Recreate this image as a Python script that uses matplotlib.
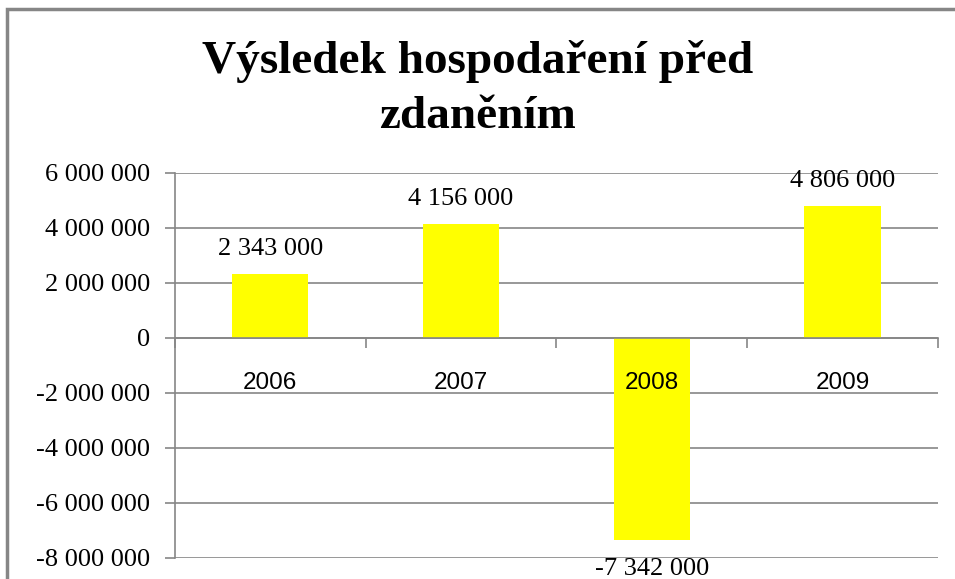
import matplotlib
matplotlib.use('Agg')
import matplotlib.pyplot as plt
from matplotlib.patches import Rectangle
from matplotlib.ticker import FuncFormatter, FixedLocator

years = ['2006', '2007', '2008', '2009']
values = [2343000, 4156000, -7342000, 4806000]
y_ticks = [6000000, 4000000, 2000000, 0, -2000000, -4000000, -6000000, -8000000]
title_lines = ['Výsledek hospodaření před', 'zdaněním']

grey = '#868686'
serif = ['Liberation Serif', 'DejaVu Serif']
sans = ['Liberation Sans', 'DejaVu Sans']


def fmt(v, pos=None):
    # mezera jako oddelovac tisicu
    return f"{v:,.0f}".replace(',', ' ')


fig = plt.figure(figsize=(9.55, 5.79), dpi=100)
ax = fig.add_axes([0.1832, 0.0363, 0.799, 0.665])

x = list(range(len(years)))
ax.bar(x, values, width=0.4, color='#FFFF00', zorder=2)

ax.set_xlim(-0.5, len(years) - 0.5)
ax.set_ylim(min(y_ticks), max(y_ticks))
ax.set_axisbelow(True)

ax.yaxis.set_major_locator(FixedLocator(y_ticks))
ax.yaxis.set_major_formatter(FuncFormatter(fmt))
ax.grid(axis='y', color=grey, linewidth=1.2)
ax.tick_params(axis='y', direction='out', length=7, width=1.2, color=grey, pad=11,
               labelsize=19)
for lab in ax.get_yticklabels():
    lab.set_fontfamily(serif)

# kategorie: carky na hranicich, popisky rucne (aby byly nad sloupci)
ax.set_xticks([i - 0.5 for i in range(len(years) + 1)])
ax.set_xticklabels([])
ax.tick_params(axis='x', direction='out', length=7, width=1.2, color=grey)
ax.spines['bottom'].set_position(('data', 0))
ax.spines['bottom'].set_color(grey)
ax.spines['bottom'].set_linewidth(1.2)
ax.spines['left'].set_color(grey)
ax.spines['left'].set_linewidth(1.2)
ax.spines['top'].set_visible(False)
ax.spines['right'].set_visible(False)

for i, yr in enumerate(years):
    ax.annotate(yr, (i, 0), xytext=(0, -32.5), textcoords='offset points',
                ha='center', va='center', fontsize=17.5, family=sans, zorder=5)

for i, v in enumerate(values):
    off = 18 if v >= 0 else -21
    ax.annotate(fmt(v), (i, v), xytext=(0, off), textcoords='offset points',
                ha='center', va='center', fontsize=19, family=serif, zorder=5,
                annotation_clip=False)

fig.text(0.5, 1 - 73 / 579, title_lines[0], ha='center', va='baseline',
         fontsize=34, fontweight='bold', family=serif)
fig.text(0.5, 1 - 128 / 579, title_lines[1], ha='center', va='baseline',
         fontsize=34, fontweight='bold', family=serif)

# ramecek grafu (orizly vpravo a dole)
fig.patches.append(Rectangle((6.5 / 955, -0.1), 1.2, 1.1 - 9 / 579,
                             transform=fig.transFigure, fill=False,
                             edgecolor=grey, linewidth=2.5))

fig.savefig('out.png', dpi=100)
